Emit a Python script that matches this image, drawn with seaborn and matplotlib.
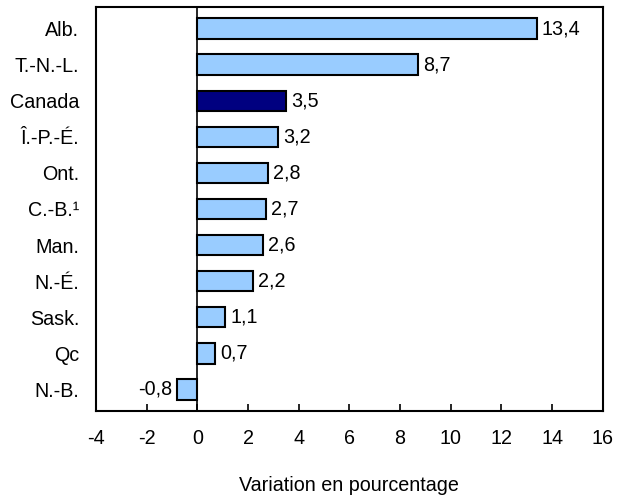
import matplotlib
matplotlib.use("Agg")

import pandas as pd
import matplotlib.pyplot as plt
import seaborn as sns

provinces = ['Alb.', 'T.-N.-L.', 'Canada', 'Î.-P.-É.', 'Ont.', 'C.-B.¹',
             'Man.', 'N.-É.', 'Sask.', 'Qc', 'N.-B.']
variation = [13.4, 8.7, 3.5, 3.2, 2.8, 2.7, 2.6, 2.2, 1.1, 0.7, -0.8]

df = pd.DataFrame({'prov': provinces, 'var': variation})
df['grp'] = ['canada' if p == 'Canada' else 'prov' for p in provinces]

sns.set_style('white')
plt.rcParams['font.family'] = ['Liberation Sans', 'DejaVu Sans']
plt.rcParams['text.color'] = 'black'
plt.rcParams['xtick.color'] = 'black'
plt.rcParams['ytick.color'] = 'black'
plt.rcParams['axes.labelcolor'] = 'black'

fig = plt.figure(figsize=(6.17, 5), dpi=100)
ax = fig.add_axes([0.1556, 0.178, 0.8214, 0.808])

sns.barplot(data=df, x='var', y='prov', hue='grp', orient='h',
            palette={'prov': '#99CCFF', 'canada': '#000080'},
            saturation=1, dodge=False, legend=False, width=0.57,
            edgecolor='black', linewidth=1.5, ax=ax)

fs = 14.2
# value labels, french decimal comma
for i, v in enumerate(variation):
    txt = f'{v:.1f}'.replace('.', ',')
    if v >= 0:
        ax.text(v + 0.2, i, txt, va='center', ha='left', fontsize=fs)
    else:
        ax.text(v - 0.2, i, txt, va='center', ha='right', fontsize=fs)

ax.axvline(0, color='black', linewidth=1.2)
ax.set_xlim(-4, 16)
ax.set_ylim(10.6, -0.6)
ax.set_xticks(range(-4, 17, 2))
ax.set_xticklabels([str(t) for t in range(-4, 17, 2)], fontsize=fs)
ax.tick_params(axis='x', direction='in', length=5, width=1.2, bottom=True, pad=13)
ax.tick_params(axis='y', length=0, labelsize=fs, pad=12)
ax.set_xlabel('Variation en pourcentage', fontsize=fs, labelpad=20)
ax.set_ylabel('')

for s in ax.spines.values():
    s.set_visible(True)
    s.set_color('black')
    s.set_linewidth(1.5)

fig.savefig('out.png', dpi=100)
